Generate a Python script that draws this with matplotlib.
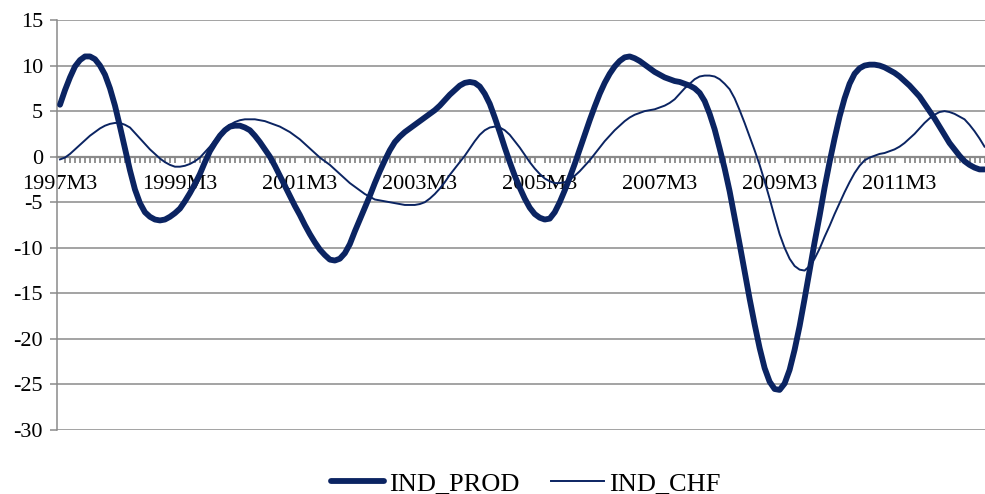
import matplotlib
matplotlib.use("Agg")
import matplotlib.pyplot as plt
import numpy as np

start_year, start_month = 1997, 3
tick_labels = ["1997M3", "1999M3", "2001M3", "2003M3", "2005M3", "2007M3", "2009M3", "2011M3"]

ind_prod = [
    5.7, 7.3, 8.7, 9.9, 10.6, 11.0, 11.0, 10.7, 10.0, 9.0,
    7.5, 5.6, 3.3, 0.9, -1.5, -3.6, -5.1, -6.1, -6.6, -6.9,
    -7.0, -6.9, -6.6, -6.2, -5.7, -4.9, -4.0, -3.0, -1.9, -0.6,
    0.6, 1.5, 2.3, 2.9, 3.3, 3.4, 3.4, 3.2, 2.9, 2.3,
    1.6, 0.8, 0.0, -1.0, -2.1, -3.2, -4.3, -5.4, -6.4, -7.5,
    -8.5, -9.4, -10.2, -10.8, -11.3, -11.4, -11.2, -10.6, -9.6, -8.2,
    -6.9, -5.6, -4.3, -2.9, -1.6, -0.4, 0.7, 1.6, 2.2, 2.7,
    3.1, 3.5, 3.9, 4.3, 4.7, 5.1, 5.6, 6.2, 6.8, 7.3,
    7.8, 8.1, 8.2, 8.1, 7.7, 6.9, 5.8, 4.3, 2.7, 1.0,
    -0.6, -2.1, -3.4, -4.6, -5.6, -6.3, -6.7, -6.9, -6.8, -6.1,
    -5.0, -3.7, -2.3, -0.8, 0.8, 2.4, 4.0, 5.5, 6.9, 8.1,
    9.1, 9.9, 10.5, 10.9, 11.0, 10.8, 10.5, 10.1, 9.7, 9.3,
    9.0, 8.7, 8.5, 8.3, 8.2, 8.0, 7.8, 7.5, 7.0, 6.1,
    4.7, 3.0, 0.9, -1.3, -3.8, -6.7, -9.6, -12.6, -15.6, -18.4,
    -21.0, -23.2, -24.7, -25.5, -25.6, -24.9, -23.4, -21.2, -18.6, -15.6,
    -12.5, -9.4, -6.5, -3.4, -0.6, 2.0, 4.4, 6.4, 8.0, 9.1,
    9.7, 10.0, 10.1, 10.1, 10.0, 9.8, 9.5, 9.2, 8.8, 8.3,
    7.8, 7.2, 6.6, 5.8, 5.0, 4.2, 3.3, 2.4, 1.5, 0.8,
    0.1, -0.5, -0.9, -1.2, -1.4, -1.4,
]

ind_chf = [
    -0.3, -0.1, 0.3, 0.8, 1.3, 1.8, 2.3, 2.7, 3.1, 3.4,
    3.6, 3.7, 3.7, 3.5, 3.2, 2.6, 2.0, 1.4, 0.8, 0.3,
    -0.2, -0.6, -0.9, -1.1, -1.1, -1.0, -0.8, -0.5, -0.1, 0.5,
    1.1, 1.8, 2.5, 3.1, 3.5, 3.8, 4.0, 4.1, 4.1, 4.1,
    4.0, 3.9, 3.7, 3.5, 3.3, 3.0, 2.7, 2.3, 1.9, 1.4,
    0.9, 0.4, -0.1, -0.5, -0.9, -1.4, -1.9, -2.4, -2.9, -3.3,
    -3.7, -4.1, -4.4, -4.7, -4.8, -4.9, -5.0, -5.1, -5.2, -5.3,
    -5.3, -5.3, -5.2, -5.0, -4.6, -4.1, -3.5, -2.8, -2.0, -1.3,
    -0.6, 0.1, 0.9, 1.7, 2.4, 2.9, 3.2, 3.3, 3.2, 2.9,
    2.4, 1.7, 1.0, 0.2, -0.6, -1.3, -1.9, -2.4, -2.7, -2.9,
    -2.9, -2.8, -2.5, -2.1, -1.6, -1.0, -0.4, 0.3, 1.0, 1.7,
    2.3, 2.9, 3.4, 3.9, 4.3, 4.6, 4.8, 5.0, 5.1, 5.2,
    5.4, 5.6, 5.9, 6.3, 6.9, 7.5, 8.0, 8.5, 8.8, 8.9,
    8.9, 8.8, 8.5, 8.0, 7.4, 6.4, 5.1, 3.7, 2.2, 0.7,
    -0.9, -2.7, -4.6, -6.6, -8.5, -10.0, -11.2, -12.0, -12.4, -12.5,
    -12.0, -11.2, -10.1, -8.8, -7.6, -6.3, -5.1, -3.9, -2.8, -1.8,
    -1.0, -0.4, -0.1, 0.1, 0.3, 0.4, 0.6, 0.8, 1.1, 1.5,
    2.0, 2.5, 3.1, 3.7, 4.2, 4.6, 4.9, 5.0, 4.9, 4.7,
    4.4, 4.1, 3.5, 2.8, 2.0, 1.1,
]

n = len(ind_prod)
x = np.arange(n)

plt.rcParams['font.family'] = ['Liberation Serif', 'DejaVu Serif']
plt.rcParams['axes.unicode_minus'] = False

fig = plt.figure(figsize=(9.85, 4.94), dpi=100)
ax = fig.add_axes([57/985, 1 - 430/494, 1 - 57/985, (430 - 20)/494])

navy = '#0B2462'
grid_c = '#8a8a8a'

ax.set_ylim(-30, 15)
ax.set_xlim(-0.6, n - 1 + 0.1)
ax.set_yticks(np.arange(-30, 16, 5))
for v in np.arange(-30, 16, 5):
    if v != 0:
        ax.axhline(v, color=grid_c, lw=1.1, zorder=1)

ax.plot(x, ind_prod, color=navy, lw=4.2, solid_capstyle='round', label='IND_PROD', zorder=3)
ax.plot(x, ind_chf, color=navy, lw=1.4, label='IND_CHF', zorder=3)

for s in ['top', 'right']:
    ax.spines[s].set_visible(False)
ax.spines['left'].set_color(grid_c)
ax.spines['left'].set_linewidth(1.1)
ax.spines['bottom'].set_position(('data', 0))
ax.spines['bottom'].set_color(grid_c)
ax.spines['bottom'].set_linewidth(1.6)
ax.spines['bottom'].set_zorder(2)

label_pos = [i for i in range(0, n, 24)]
ax.set_xticks(label_pos)
ax.set_xticklabels(tick_labels[:len(label_pos)])
ax.set_xticks(np.arange(0, n), minor=True)
ax.tick_params(axis='x', which='major', length=0, pad=13, labelsize=16)
ax.tick_params(axis='x', which='minor', length=4.5, width=1.3, color=grid_c, direction='out')
ax.tick_params(axis='y', length=5, width=1.1, color=grid_c, labelsize=16, pad=5)

fig.legend(loc='lower center', bbox_to_anchor=(0.534, -0.05), ncol=2, frameon=False,
           fontsize=19, handlelength=2.0, handletextpad=0.2, columnspacing=1.2)

fig.savefig('out.png', dpi=100)
